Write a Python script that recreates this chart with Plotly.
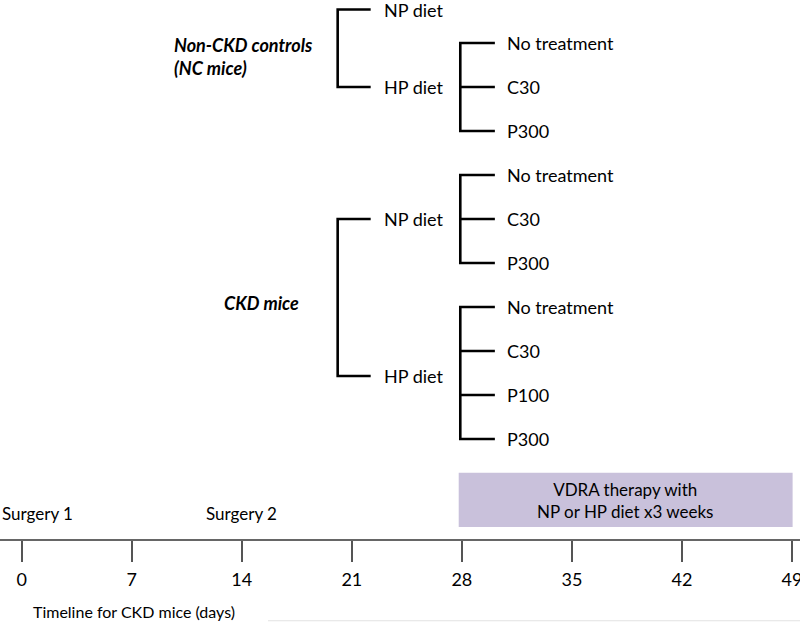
import plotly.graph_objects as go

# ---------------- data ----------------
timeline_days = [0, 7, 14, 21, 28, 35, 42, 49]
surgery_labels = ["Surgery 1", "Surgery 2"]
surgery_days = [0, 14]
therapy_window = [28, 49]
therapy_text = "VDRA therapy with<br>NP or HP diet x3 weeks"
timeline_title = "Timeline for CKD mice (days)"

nc_label = "Non-CKD controls<br>(NC mice)"
nc_diets = ["NP diet", "HP diet"]
nc_np_treatments = []
nc_hp_treatments = ["No treatment", "C30", "P300"]

ckd_label = "CKD mice"
ckd_diets = ["NP diet", "HP diet"]
ckd_np_treatments = ["No treatment", "C30", "P300"]
ckd_hp_treatments = ["No treatment", "C30", "P100", "P300"]

# ---------------- layout constants ----------------
FONT = "Lato, 'Open Sans', sans-serif"
X_GROUP_BR = 20.1
X_DIET_ARM = 22.2
X_DIET_TXT = 22.9
X_TRT_BR = 27.9
X_TRT_ARM = 30.1
X_TRT_TXT = 30.75
LW = 2.6
FS = 18

fig = go.Figure()
annotations = []
lx, ly = [], []


def seg(xs, ys):
    lx.extend(xs + [None])
    ly.extend(ys + [None])


def text(x, y, s, size=FS):
    annotations.append(dict(x=x, y=y, xref="x", yref="y", text=s, showarrow=False,
                            xanchor="left", yanchor="middle", align="left",
                            font=dict(family=FONT, size=size, color="black")))


def build_group(label, label_pos, diets, treatment_lists, start_row, empty_row):
    row = start_row
    diet_rows = []
    for diet, trts in zip(diets, treatment_lists):
        if trts:
            rows = list(range(row, row + len(trts)))
            row += len(trts)
            seg([X_TRT_ARM, X_TRT_BR, X_TRT_BR, X_TRT_ARM], [rows[0], rows[0], rows[-1], rows[-1]])
            for r in rows[1:-1]:
                seg([X_TRT_BR, X_TRT_ARM], [r, r])
            for r, t in zip(rows, trts):
                text(X_TRT_TXT, r, t)
            if len(rows) % 2 == 1:
                drow = rows[len(rows) // 2]
            else:
                drow = (rows[0] + rows[-1]) / 2 + 0.07
        else:
            drow = empty_row
        diet_rows.append(drow)
        text(X_DIET_TXT, drow, diet)
    seg([X_DIET_ARM, X_GROUP_BR, X_GROUP_BR, X_DIET_ARM],
        [diet_rows[0], diet_rows[0], diet_rows[-1], diet_rows[-1]])
    annotations.append(dict(x=label_pos[0], y=label_pos[1], xref="x", yref="y", text=label,
                            showarrow=False, xanchor="left", yanchor="middle", align="left",
                            font=dict(family=FONT, size=FS, color="black",
                                      style="italic", weight="bold")))
    return row


next_row = build_group(nc_label, (9.55, 0.3), nc_diets, [nc_np_treatments, nc_hp_treatments], 0, -0.76)
build_group(ckd_label, (12.75, 5.9), ckd_diets, [ckd_np_treatments, ckd_hp_treatments], next_row, None)

fig.add_trace(go.Scatter(x=lx, y=ly, mode="lines", line=dict(color="black", width=LW),
                         hoverinfo="skip", showlegend=False))

# therapy box
fig.add_shape(type="rect", xref="x", yref="y", x0=therapy_window[0] - 0.2, x1=therapy_window[1] + 0.04,
              y0=9.77, y1=11.0, fillcolor="#C9C1DB", line=dict(width=0), layer="below")
annotations.append(dict(x=(therapy_window[0] + therapy_window[1]) / 2 - 0.1, y=10.39, xref="x", yref="y",
                        text=therapy_text, showarrow=False, xanchor="center", yanchor="middle",
                        align="center", font=dict(family=FONT, size=17, color="black")))

# surgery labels
for lab, d in zip(surgery_labels, surgery_days):
    if d == 0:
        annotations.append(dict(x=0, y=10.69, xref="paper", yref="y", text=lab, showarrow=False,
                                xanchor="left", yanchor="middle",
                                font=dict(family=FONT, size=17, color="black")))
    else:
        annotations.append(dict(x=d, y=10.69, xref="x", yref="y", text=lab, showarrow=False,
                                xanchor="center", yanchor="middle",
                                font=dict(family=FONT, size=17, color="black")))

annotations.append(dict(x=31 / 800, y=0.017, xref="paper", yref="paper", text=timeline_title,
                        showarrow=False, xanchor="left", yanchor="middle",
                        font=dict(family=FONT, size=16, color="black")))

# faint bottom edge line
fig.add_shape(type="line", xref="paper", yref="paper", x0=268 / 800, x1=1, y0=0.002, y1=0.002,
              line=dict(color="#E2E2E2", width=1))

fig.update_layout(
    width=800, height=622,
    margin=dict(l=0, r=0, t=0, b=0, autoexpand=False),
    paper_bgcolor="white", plot_bgcolor="white",
    annotations=annotations,
    showlegend=False,
    xaxis=dict(range=[-1.38, 49.51], showgrid=False, zeroline=False, automargin=False,
               showline=True, linecolor="#666666", linewidth=1.5,
               ticks="outside", ticklen=21, tickwidth=1.5, tickcolor="#555555",
               tickvals=timeline_days, ticktext=[str(d) for d in timeline_days],
               tickfont=dict(family=FONT, size=18, color="black"),
               ticklabelstandoff=2, ticklabeloverflow="allow", fixedrange=True),
    yaxis=dict(range=[11.28, -0.977], domain=[0.133, 1], visible=False, fixedrange=True,
               automargin=False),
)

fig.write_html("out.html", config={"displayModeBar": False},
               post_script="document.body.style.margin='0';document.body.style.overflow='hidden';")
